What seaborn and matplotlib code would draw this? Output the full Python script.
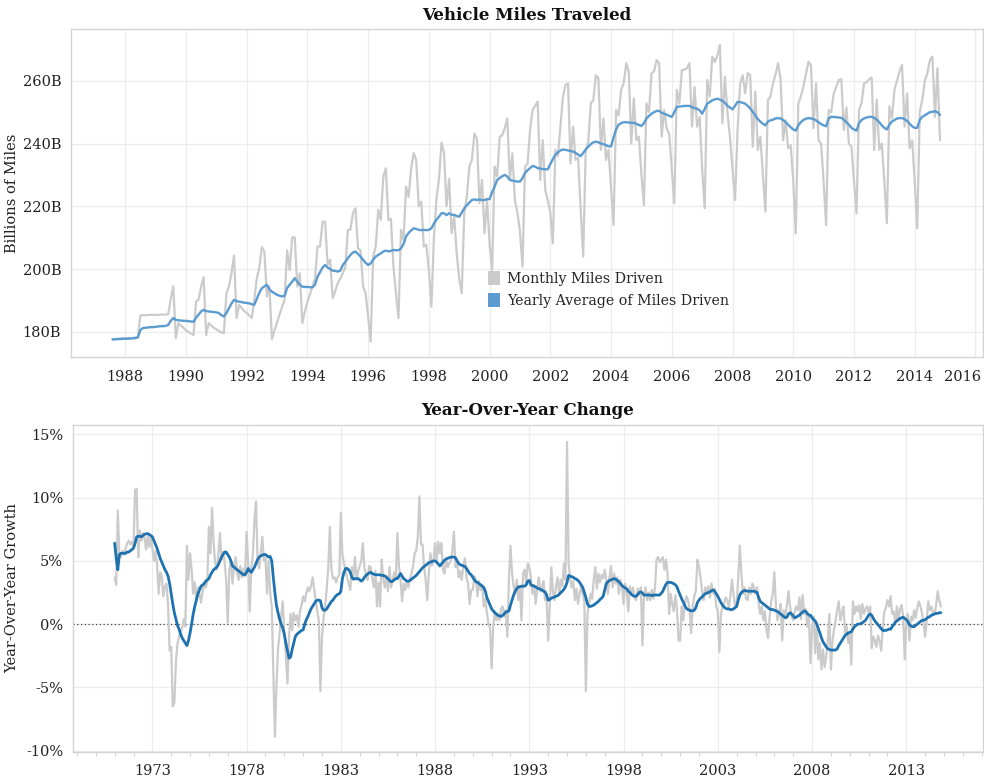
import numpy as np
import pandas as pd
import matplotlib
matplotlib.use("Agg")
import matplotlib.pyplot as plt
import matplotlib.transforms as mtransforms
from matplotlib.patches import Patch
from matplotlib.ticker import FixedLocator, MultipleLocator
import seaborn as sns

# ---------------- Top chart data (billions of miles), monthly from Aug 1987 to Nov 2014
top_start = "1987-08-01"
monthly_miles = [
    177.7, 177.7, 177.8, 177.8, 177.9,                                              # 1987 Aug-Dec
    177.9, 178.0, 178.0, 178.1, 178.2, 178.4, 185.3, 185.3, 185.3, 185.4, 185.4, 185.4,  # 1988
    185.4, 185.4, 185.5, 185.5, 185.5, 185.6, 190.5, 194.5, 178.0, 182.8, 182.0, 181.3,  # 1989
    180.5, 180.0, 179.4, 179.0, 189.7, 190.3, 194.4, 197.4, 179.0, 182.8, 182.0, 181.3,  # 1990
    180.8, 180.3, 179.8, 179.6, 192.3, 194.5, 198.7, 204.3, 184.4, 188.6, 187.6, 186.7,  # 1991
    186.0, 185.2, 184.4, 190.0, 197.0, 200.5, 207.0, 205.6, 191.3, 194.4, 177.7, 180.5,  # 1992
    183.0, 185.5, 188.0, 190.2, 206.0, 199.7, 210.1, 210.1, 194.4, 198.7, 182.8, 186.5,  # 1993
    189.5, 192.0, 194.4, 197.0, 207.2, 207.2, 215.1, 215.1, 201.4, 203.0, 190.7, 193.0,  # 1994
    195.5, 197.0, 198.7, 200.5, 212.5, 212.5, 217.8, 219.4, 206.6, 206.0, 194.4, 192.3,  # 1995
    185.0, 176.9, 204.0, 207.2, 218.9, 215.7, 229.5, 232.1, 215.7, 216.0, 200.8, 192.3,  # 1996
    184.4, 212.5, 209.3, 226.3, 223.0, 232.0, 236.9, 234.8, 220.0, 221.5, 207.2, 207.7,  # 1997
    200.0, 188.0, 210.0, 222.3, 228.7, 240.3, 237.0, 220.0, 228.7, 211.4, 216.7, 205.0,  # 1998
    197.0, 192.3, 217.8, 223.1, 232.6, 234.8, 243.2, 241.6, 221.0, 228.4, 211.4, 222.0,  # 1999
    208.0, 199.7, 232.7, 229.5, 242.2, 242.7, 244.9, 248.0, 228.4, 236.9, 222.0, 218.0,  # 2000
    212.0, 200.8, 232.7, 233.5, 244.3, 250.7, 252.0, 253.4, 228.4, 241.1, 225.2, 222.0,  # 2001
    218.0, 208.2, 238.0, 236.0, 245.4, 255.0, 258.7, 259.2, 233.7, 245.4, 234.8, 235.5,  # 2002
    219.0, 204.0, 238.0, 240.5, 252.8, 253.9, 261.8, 260.8, 238.0, 248.0, 234.8, 238.0,  # 2003
    226.0, 214.1, 250.7, 249.0, 257.1, 259.2, 265.6, 262.9, 240.0, 254.4, 241.1, 242.2,  # 2004
    230.0, 220.4, 252.8, 250.0, 262.4, 263.0, 266.6, 265.6, 242.2, 250.7, 244.8, 243.0,  # 2005
    232.0, 221.0, 257.1, 252.8, 263.4, 263.6, 264.0, 265.6, 245.4, 258.0, 245.4, 248.5,  # 2006
    232.0, 219.4, 260.3, 255.0, 267.7, 266.0, 268.0, 271.4, 246.5, 261.3, 250.0, 242.0,  # 2007
    232.0, 222.0, 244.3, 259.0, 261.8, 256.0, 262.4, 261.8, 239.0, 256.5, 238.0, 242.2,  # 2008
    230.0, 218.3, 253.9, 255.0, 259.2, 262.0, 265.6, 260.5, 241.0, 247.4, 238.5, 239.5,  # 2009
    228.0, 211.4, 252.8, 255.0, 258.2, 262.0, 266.1, 265.0, 244.9, 259.2, 241.0, 240.0,  # 2010
    228.0, 214.0, 250.7, 250.0, 256.0, 258.0, 260.3, 260.5, 244.3, 251.5, 240.0, 239.0,  # 2011
    228.0, 217.8, 250.7, 253.0, 259.2, 259.5, 260.5, 261.0, 238.0, 254.0, 238.0, 240.0,  # 2012
    228.0, 214.6, 251.9, 248.0, 257.1, 260.0, 263.0, 265.0, 245.4, 256.0, 238.5, 241.0,  # 2013
    228.0, 213.0, 250.0, 254.0, 260.0, 262.4, 266.5, 267.7, 248.5, 264.0, 241.0,         # 2014 Jan-Nov
]
yearly_avg_miles = [
    177.6, 177.6, 177.7, 177.7, 177.8,                                              # 1987 Aug-Dec
    177.8, 177.8, 177.9, 177.9, 178.0, 178.2, 180.6, 181.2, 181.3, 181.4, 181.5, 181.5,  # 1988
    181.6, 181.7, 181.8, 181.8, 181.9, 182.2, 183.5, 184.4, 183.8, 183.7, 183.6, 183.5,  # 1989
    183.5, 183.4, 183.3, 183.2, 184.5, 185.5, 186.5, 187.0, 186.6, 186.5, 186.4, 186.3,  # 1990
    186.2, 186.0, 185.3, 184.9, 186.0, 187.5, 189.0, 190.2, 189.8, 189.6, 189.5, 189.3,  # 1991
    189.2, 189.1, 188.8, 188.6, 190.5, 192.5, 193.9, 194.5, 195.0, 193.5, 192.8, 192.3,  # 1992
    191.8, 191.5, 191.3, 191.5, 194.0, 195.0, 196.0, 197.1, 196.0, 195.0, 194.4, 194.3,  # 1993
    194.3, 194.2, 194.2, 195.0, 197.6, 199.0, 200.5, 201.3, 200.5, 200.0, 199.5, 199.4,  # 1994
    199.2, 199.5, 201.3, 202.3, 203.5, 204.5, 205.3, 205.6, 204.8, 204.0, 203.0, 202.0,  # 1995
    201.3, 201.8, 203.0, 204.0, 204.5, 205.0, 205.6, 205.9, 205.6, 205.8, 206.1, 206.0,  # 1996
    206.0, 206.6, 208.0, 210.4, 211.5, 212.3, 213.0, 212.8, 212.5, 212.4, 212.5, 212.4,  # 1997
    212.5, 213.0, 214.5, 215.7, 216.7, 217.8, 217.8, 217.2, 217.8, 217.3, 217.3, 216.9,  # 1998
    216.7, 218.0, 219.4, 220.3, 221.2, 222.0, 222.2, 222.0, 222.2, 222.0, 222.0, 222.3,  # 1999
    222.3, 224.5, 226.3, 228.4, 229.0, 229.6, 230.0, 229.5, 228.4, 228.2, 228.0, 227.9,  # 2000
    227.9, 229.0, 230.6, 231.5, 232.2, 232.9, 232.6, 232.2, 232.0, 231.9, 231.8, 231.8,  # 2001
    233.5, 235.0, 236.5, 237.2, 237.8, 238.1, 238.0, 237.8, 237.6, 237.5, 237.0, 236.5,  # 2002
    236.0, 237.0, 238.1, 239.0, 239.8, 240.4, 240.6, 240.4, 240.0, 239.8, 239.5, 239.1,  # 2003
    239.1, 242.0, 244.5, 246.0, 246.5, 246.8, 246.8, 246.7, 246.6, 246.6, 246.3, 245.9,  # 2004
    245.6, 246.5, 248.0, 248.8, 249.5, 250.0, 250.4, 250.4, 249.8, 249.5, 249.2, 248.8,  # 2005
    248.5, 250.0, 251.7, 251.8, 251.9, 252.0, 252.0, 252.0, 251.6, 251.3, 251.1, 250.6,  # 2006
    249.5, 251.0, 252.7, 253.2, 253.8, 254.1, 254.3, 254.0, 253.6, 253.0, 252.0, 251.5,  # 2007
    250.9, 252.0, 253.3, 253.2, 253.0, 252.7, 252.0, 251.2, 250.1, 249.0, 247.8, 247.0,  # 2008
    246.3, 245.8, 247.0, 247.4, 247.6, 248.0, 248.1, 248.0, 247.5, 246.8, 246.0, 245.2,  # 2009
    244.5, 244.1, 245.8, 246.8, 247.5, 247.9, 248.1, 248.0, 247.8, 247.4, 246.8, 246.2,  # 2010
    245.8, 245.5, 248.0, 248.5, 248.5, 248.4, 248.3, 248.2, 247.6, 246.8, 246.0, 245.0,  # 2011
    244.5, 244.1, 246.5, 247.5, 248.0, 248.3, 248.5, 248.5, 248.2, 247.6, 246.8, 245.8,  # 2012
    245.0, 244.5, 246.0, 247.0, 247.5, 248.0, 248.1, 248.1, 247.8, 247.2, 246.3, 245.5,  # 2013
    245.0, 245.0, 247.5, 248.5, 249.0, 249.5, 250.0, 250.1, 250.3, 250.0, 249.1,         # 2014 Jan-Nov
]
top_yticks = [180, 200, 220, 240, 260]
top_ytick_labels = ["180B", "200B", "220B", "240B", "260B"]
top_xticks = [1988, 1990, 1992, 1994, 1996, 1998, 2000, 2002, 2004, 2006, 2008, 2010, 2012, 2014, 2016]

# ---------------- Bottom chart data (year-over-year growth, %), monthly Jan 1971 - Nov 2014
bottom_start = "1971-01-01"
monthly_yoy = [
    3.7, 3.1, 9.0, 5.4, 5.3, 5.8, 5.5, 6.0, 6.4, 6.6, 6.3, 6.5,        # 1971
    6.2, 10.6, 10.7, 5.3, 7.4, 6.6, 7.2, 6.8, 5.9, 7.0, 6.1, 6.9,      # 1972
    6.0, 5.0, 5.8, 4.7, 2.4, 4.1, 3.8, 2.2, 3.0, 3.2, 1.5, -2.1,       # 1973
    -1.8, -6.5, -6.2, -3.0, -1.5, -1.0, -0.6, -0.3, 0.4, -0.2, 6.2, 3.5,  # 1974
    5.6, 4.3, 2.4, 3.3, 1.8, 2.9, 2.4, 1.7, 2.6, 3.2, 2.9, 3.4,        # 1975
    7.7, 5.6, 9.2, 6.4, 4.8, 4.3, 5.5, 7.2, 5.1, 5.7, 4.9, 3.5,        # 1976
    0.1, 4.3, 5.0, 3.2, 4.5, 5.3, 4.0, 3.5, 4.6, 3.7, 4.4, 3.8,        # 1977
    7.3, 4.8, 1.0, 4.5, 5.5, 8.2, 9.7, 5.0, 4.4, 5.6, 6.9, 5.0,        # 1978
    5.2, 2.4, 5.0, 2.5, 1.4, -3.6, -8.9, -4.9, -2.0, -0.7, 0.6, 1.8,   # 1979
    -0.7, -2.5, -4.7, -1.0, 0.8, -0.5, 0.9, 0.3, 0.7, -0.2, 1.0, 1.5,  # 1980
    2.2, 1.8, 2.4, 2.9, 2.6, 3.0, 3.7, 2.8, 1.9, 1.0, 0.3, -5.3,       # 1981
    -1.0, 0.5, 1.4, 2.8, 4.5, 7.7, 4.3, 3.6, 3.7, 3.3, 3.7, 3.9,       # 1982
    8.8, 5.5, 4.8, 4.2, 3.7, 3.2, 2.7, 4.5, 3.8, 5.3, 3.5, 4.2,        # 1983
    4.6, 5.0, 6.4, 4.5, 3.9, 3.5, 4.6, 4.5, 3.6, 2.9, 4.2, 1.4,        # 1984
    3.3, 1.4, 5.1, 3.6, 2.9, 3.8, 2.6, 4.5, 2.9, 3.5, 4.1, 3.6,        # 1985
    7.2, 4.6, 3.5, 1.8, 3.2, 2.7, 3.4, 2.9, 3.6, 4.0, 4.6, 5.6,        # 1986
    5.8, 6.9, 10.1, 6.3, 6.3, 4.5, 3.5, 1.9, 4.0, 5.6, 4.6, 5.0,       # 1987
    6.4, 5.0, 6.5, 5.6, 6.4, 4.3, 4.0, 5.2, 4.5, 4.8, 5.0, 5.8,        # 1988
    7.3, 4.5, 5.0, 3.7, 4.2, 3.5, 4.6, 5.2, 3.7, 3.2, 1.6, 2.7,        # 1989
    2.7, 3.8, 3.5, 2.2, 3.4, 2.7, 3.1, 1.4, 2.0, 0.9, 0.05, -0.3,      # 1990
    -3.5, -0.2, 1.0, 0.3, 0.8, 0.3, 1.2, 1.4, 0.6, 1.1, -1.0, 3.5,     # 1991
    6.2, 4.0, 3.0, 2.4, 3.5, 1.9, 3.0, 0.3, 4.0, 4.3, 3.2, 4.8,        # 1992
    4.5, 3.7, 2.4, 3.1, 1.6, 2.8, 3.7, 2.6, 2.9, 3.4, 1.9, 2.2,        # 1993
    -1.3, 1.4, 4.5, 2.6, 1.9, 3.0, 3.7, 2.4, 3.5, 3.0, 4.8, 3.5,       # 1994
    14.4, 4.8, 3.6, 2.9, 3.4, 1.9, 2.8, 1.6, 2.4, 3.0, 2.4, 1.8,       # 1995
    -5.3, 0.8, 1.6, 2.4, 2.0, 3.5, 4.5, 2.8, 4.0, 3.3, 3.9, 3.6,       # 1996
    4.3, 3.5, 2.4, 3.7, 4.6, 2.9, 4.0, 3.2, 3.7, 2.4, 3.5, 3.0,        # 1997
    1.6, 3.2, 2.6, 1.0, 3.0, 2.4, 2.9, 2.1, 1.9, 2.8, 2.3, 2.9,        # 1998
    -1.7, 2.4, 2.9, 1.9, 2.5, 1.9, 2.7, 2.0, 2.9, 5.1, 5.3, 4.9,       # 1999
    5.1, 5.3, 4.3, 5.1, 4.0, 0.8, 2.4, 1.6, 1.0, 2.3, 1.2, -1.3,       # 2000
    -1.3, 1.4, 0.3, 1.6, 2.2, 1.9, 1.2, -0.7, 1.4, 2.2, 2.6, 5.1,      # 2001
    4.5, 3.7, 2.6, 1.9, 2.9, 2.4, 3.0, 2.1, 3.2, 2.4, 2.8, 1.4,        # 2002
    1.0, -2.2, 0.8, 1.4, 1.6, 2.1, 1.9, 1.3, 2.2, 3.5, 2.4, 1.4,       # 2003
    1.4, 3.7, 6.2, 4.0, 2.4, 2.9, 2.0, 1.9, 2.9, 2.4, 3.2, 2.9,        # 2004
    2.4, 2.9, 1.6, 0.8, 1.4, 0.3, 1.0, -0.5, -1.1, 0.6, 1.8, 2.4,      # 2005
    4.1, 1.4, 0.3, 0.8, 1.6, -1.3, 1.1, 0.6, 1.5, 2.6, 1.4, 0.6,       # 2006
    0.3, 1.0, 1.4, 1.1, 2.1, 0.4, 2.3, 0.8, 1.2, -0.2, 0.5, -3.1,      # 2007
    -0.2, 0.6, -2.3, 0.05, -2.8, -1.5, -3.6, -2.0, -3.4, -2.6, -1.4, 0.8,  # 2008
    -3.6, -1.3, -0.4, 0.3, 1.1, 1.8, 0.3, 0.9, 1.4, -0.7, -0.2, -1.5,  # 2009
    -0.8, -3.2, 1.8, 0.8, 1.4, 1.0, 1.5, 0.4, 1.6, 0.8, 1.2, 1.4,      # 2010
    0.9, 1.4, -1.9, -1.0, -1.3, -1.8, -0.9, -1.3, -2.1, -0.4, 1.0, 1.3,  # 2011
    1.9, 1.4, 2.2, 0.8, 1.0, 0.05, 1.4, 0.3, 1.2, 1.5, 0.6, -2.8,      # 2012
    0.3, 0.8, -1.3, 0.6, 0.3, 1.1, 0.5, 1.3, 1.8, 1.4, 0.9, 0.05,      # 2013
    -1.0, 0.3, 1.8, 1.1, 1.4, 0.9, 0.8, 1.5, 2.6, 1.9, 1.4,            # 2014 Jan-Nov
]
smoothed_yoy = [
    6.4, 5.2, 4.3, 5.5, 5.6, 5.6, 5.6, 5.6, 5.7, 5.7, 5.8, 5.9,        # 1971
    6.0, 6.4, 6.9, 6.95, 6.95, 6.9, 7.0, 7.1, 7.15, 7.15, 7.1, 7.0,    # 1972
    6.9, 6.6, 6.3, 6.0, 5.6, 5.2, 4.9, 4.6, 4.3, 4.1, 3.8, 3.2,        # 1973
    2.4, 1.6, 0.9, 0.4, -0.1, -0.4, -0.8, -1.1, -1.3, -1.5, -1.7, -1.3,  # 1974
    -0.7, 0.0, 0.8, 1.4, 1.9, 2.4, 2.7, 3.0, 3.1, 3.2, 3.4, 3.5,       # 1975
    3.6, 3.9, 4.1, 4.3, 4.4, 4.5, 4.7, 5.0, 5.3, 5.5, 5.7, 5.7,        # 1976
    5.5, 5.3, 5.0, 4.6, 4.5, 4.4, 4.3, 4.2, 4.1, 4.0, 3.9, 3.9,        # 1977
    4.1, 4.4, 4.2, 4.1, 4.3, 4.5, 4.8, 5.1, 5.3, 5.4, 5.45, 5.5,       # 1978
    5.5, 5.4, 5.3, 5.35, 5.0, 3.7, 2.5, 1.5, 0.9, 0.4, 0.0, -0.3,      # 1979
    -0.8, -1.5, -2.1, -2.7, -2.6, -2.0, -1.5, -1.0, -0.8, -0.7, -0.6, -0.5,  # 1980
    -0.45, 0.0, 0.35, 0.6, 0.9, 1.2, 1.4, 1.6, 1.8, 1.9, 1.9, 1.85,    # 1981
    1.3, 1.1, 1.1, 1.2, 1.4, 1.6, 1.8, 1.9, 2.1, 2.25, 2.35, 2.4,      # 1982
    2.6, 3.6, 4.1, 4.4, 4.4, 4.3, 4.1, 3.7, 3.55, 3.6, 3.6, 3.6,       # 1983
    3.5, 3.4, 3.5, 3.7, 3.85, 3.95, 4.05, 4.1, 4.0, 3.95, 3.9, 3.9,    # 1984
    3.9, 3.9, 3.85, 3.85, 3.8, 3.7, 3.6, 3.45, 3.35, 3.4, 3.5, 3.6,    # 1985
    3.6, 3.8, 4.0, 3.8, 3.6, 3.5, 3.4, 3.4, 3.45, 3.55, 3.65, 3.75,    # 1986
    3.85, 4.0, 4.15, 4.3, 4.45, 4.55, 4.65, 4.75, 4.85, 4.9, 4.95, 5.0,  # 1987
    5.0, 4.9, 4.75, 4.6, 4.75, 4.9, 5.05, 5.15, 5.2, 5.25, 5.3, 5.3,   # 1988
    5.3, 5.25, 5.0, 4.8, 4.7, 4.65, 4.6, 4.55, 4.4, 4.2, 4.0, 3.9,     # 1989
    3.7, 3.5, 3.35, 3.3, 3.2, 3.1, 3.0, 2.9, 2.6, 2.1, 1.8, 1.5,       # 1990
    1.2, 1.05, 0.9, 0.8, 0.7, 0.65, 0.6, 0.7, 0.8, 0.95, 1.0, 1.05,    # 1991
    1.5, 1.9, 2.3, 2.6, 2.8, 2.95, 2.95, 3.0, 3.0, 3.0, 3.1, 3.4,      # 1992
    3.45, 3.1, 3.05, 3.0, 2.95, 2.85, 2.8, 2.75, 2.7, 2.6, 2.55, 2.3,  # 1993
    1.9, 1.95, 2.05, 2.1, 2.15, 2.2, 2.25, 2.35, 2.5, 2.6, 2.75, 2.95,  # 1994
    3.3, 3.85, 3.8, 3.75, 3.7, 3.6, 3.55, 3.45, 3.3, 3.1, 2.9, 2.5,    # 1995
    2.1, 1.6, 1.4, 1.4, 1.45, 1.5, 1.6, 1.7, 1.8, 1.95, 2.05, 2.2,     # 1996
    2.7, 3.2, 3.35, 3.45, 3.5, 3.55, 3.6, 3.55, 3.45, 3.35, 3.2, 3.05,  # 1997
    2.95, 2.85, 2.8, 2.6, 2.5, 2.35, 2.25, 2.2, 2.2, 2.35, 2.5, 2.55,  # 1998
    2.45, 2.3, 2.3, 2.3, 2.3, 2.3, 2.25, 2.3, 2.3, 2.3, 2.3, 2.3,      # 1999
    2.45, 2.6, 2.9, 3.15, 3.3, 3.3, 3.3, 3.25, 3.2, 3.1, 2.95, 2.6,    # 2000
    2.3, 2.0, 1.75, 1.45, 1.25, 1.15, 1.1, 1.05, 1.05, 1.1, 1.3, 1.7,  # 2001
    1.9, 2.05, 2.15, 2.3, 2.4, 2.45, 2.5, 2.55, 2.65, 2.7, 2.6, 2.4,   # 2002
    2.2, 1.95, 1.7, 1.5, 1.35, 1.25, 1.2, 1.2, 1.15, 1.15, 1.2, 1.3,   # 2003
    1.4, 1.9, 2.3, 2.5, 2.6, 2.65, 2.65, 2.6, 2.6, 2.6, 2.6, 2.6,      # 2004
    2.55, 2.5, 2.1, 1.8, 1.7, 1.6, 1.5, 1.4, 1.3, 1.2, 1.15, 1.15,     # 2005
    1.1, 1.05, 1.0, 0.9, 0.8, 0.7, 0.6, 0.5, 0.55, 0.8, 0.9, 0.8,      # 2006
    0.65, 0.5, 0.55, 0.65, 0.7, 0.85, 0.95, 1.05, 1.0, 0.85, 0.7, 0.7,  # 2007
    0.5, 0.35, 0.25, 0.0, -0.35, -0.7, -1.1, -1.4, -1.6, -1.8, -1.95, -2.0,  # 2008
    -2.05, -2.05, -2.05, -2.05, -1.95, -1.7, -1.5, -1.3, -1.1, -0.9, -0.8, -0.7,  # 2009
    -0.65, -0.6, -0.4, -0.2, -0.1, 0.0, 0.0, 0.05, 0.1, 0.2, 0.3, 0.5,  # 2010
    0.7, 0.8, 0.7, 0.45, 0.25, 0.1, -0.05, -0.2, -0.35, -0.5, -0.5, -0.5,  # 2011
    -0.45, -0.4, -0.4, -0.2, -0.05, 0.15, 0.25, 0.35, 0.45, 0.5, 0.55, 0.45,  # 2012
    0.35, 0.2, -0.05, -0.15, -0.2, -0.2, -0.1, 0.0, 0.1, 0.2, 0.3, 0.3,  # 2013
    0.35, 0.45, 0.55, 0.6, 0.7, 0.75, 0.8, 0.85, 0.85, 0.9, 0.9,       # 2014 Jan-Nov
]
bottom_yticks = [-10, -5, 0, 5, 10, 15]
bottom_ytick_labels = ["-10%", "-5%", "0%", "5%", "10%", "15%"]
bottom_xticks = [1973, 1978, 1983, 1988, 1993, 1998, 2003, 2008, 2013]


def decimal_years(start, n):
    d = pd.date_range(start, periods=n, freq="MS")
    return d.year + (d.month - 1) / 12.0


top = pd.DataFrame({
    "t": decimal_years(top_start, len(monthly_miles)),
    "monthly": monthly_miles,
    "yearly": yearly_avg_miles,
})
bottom = pd.DataFrame({
    "t": decimal_years(bottom_start, len(monthly_yoy)),
    "monthly": monthly_yoy,
    "smooth": smoothed_yoy,
})

sns.set_theme(style="white")
plt.rcParams["font.family"] = ["DejaVu Serif"]

GRAY = "#cbcbcb"
BLUE_TOP = "#5b9bd0"
BLUE_BOT = "#1f72b0"
GRID = "#ececec"
SPINE = "#d4d4d4"
TXT = "#222222"

fig = plt.figure(figsize=(9.84, 7.84), dpi=100)
ax1 = fig.add_axes([0.0720, 0.5443, 0.9270, 0.4183])
ax2 = fig.add_axes([0.0740, 0.0410, 0.9250, 0.4170])

# ---- Top chart
sns.lineplot(data=top, x="t", y="monthly", ax=ax1, color=GRAY, linewidth=1.6)
sns.lineplot(data=top, x="t", y="yearly", ax=ax1, color=BLUE_TOP, linewidth=1.7)
ax1.set_xlim(1986.21, 2016.25)
ax1.set_ylim(171.9, 276.4)
ax1.xaxis.set_major_locator(FixedLocator(top_xticks))
ax1.set_xticklabels([str(v) for v in top_xticks])
ax1.yaxis.set_major_locator(FixedLocator(top_yticks))
ax1.set_yticklabels(top_ytick_labels)
ax1.set_xlabel("")
ax1.set_ylabel("Billions of Miles", fontsize=10.5, color=TXT)
ax1.yaxis.set_label_coords(-0.0565, 0.5)
ax1.set_title("Vehicle Miles Traveled", fontsize=12, fontweight="bold", color="#111111", pad=7)
ax1.grid(True, color=GRID, linewidth=0.9)
ax1.set_axisbelow(True)

handles = [Patch(facecolor=GRAY, edgecolor="none"), Patch(facecolor=BLUE_TOP, edgecolor="none")]
ax1.legend(handles, ["Monthly Miles Driven", "Yearly Average of Miles Driven"],
           loc="upper left", bbox_to_anchor=(0.457, 0.262), frameon=False,
           fontsize=10.2, handlelength=0.85, handleheight=1.1, handletextpad=0.5,
           labelspacing=0.5, borderaxespad=0.0, borderpad=0.0)

# ---- Bottom chart
ax2.axhline(0, color="#444444", linewidth=0.9, linestyle=(0, (1, 2)), zorder=1)
sns.lineplot(data=bottom, x="t", y="monthly", ax=ax2, color=GRAY, linewidth=1.6)
sns.lineplot(data=bottom, x="t", y="smooth", ax=ax2, color=BLUE_BOT, linewidth=2.0)
ax2.set_xlim(1968.78, 2017.07)
ax2.set_ylim(-10.1, 15.75)
ax2.xaxis.set_major_locator(FixedLocator(bottom_xticks))
ax2.set_xticklabels([str(v) for v in bottom_xticks])
ax2.xaxis.set_minor_locator(MultipleLocator(1))
ax2.yaxis.set_major_locator(FixedLocator(bottom_yticks))
ax2.set_yticklabels(bottom_ytick_labels)
ax2.set_xlabel("")
ax2.set_ylabel("Year-Over-Year Growth", fontsize=10.5, color=TXT)
ax2.yaxis.set_label_coords(-0.0585, 0.5)
ax2.set_title("Year-Over-Year Change", fontsize=12, fontweight="bold", color="#111111", pad=7)
ax2.grid(True, which="major", color=GRID, linewidth=0.9)
ax2.set_axisbelow(True)

for ax in (ax1, ax2):
    for s in ax.spines.values():
        s.set_color(SPINE)
        s.set_linewidth(1.0)
    ax.tick_params(axis="both", which="major", length=0, labelsize=10.5, colors=TXT)
    ax.tick_params(axis="x", which="major", pad=9)
    ax.tick_params(axis="y", which="major", pad=7)

ax2.tick_params(axis="x", which="minor", length=3, width=0.8, color=SPINE, bottom=True)

# keep the last top tick label ("2016") inside the figure, right-aligned like the reference
last = ax1.get_xticklabels()[-1]
last.set_horizontalalignment("right")
last.set_transform(last.get_transform() + mtransforms.ScaledTranslation(4 / 72, 0, fig.dpi_scale_trans))

fig.savefig("out.png", dpi=100)
